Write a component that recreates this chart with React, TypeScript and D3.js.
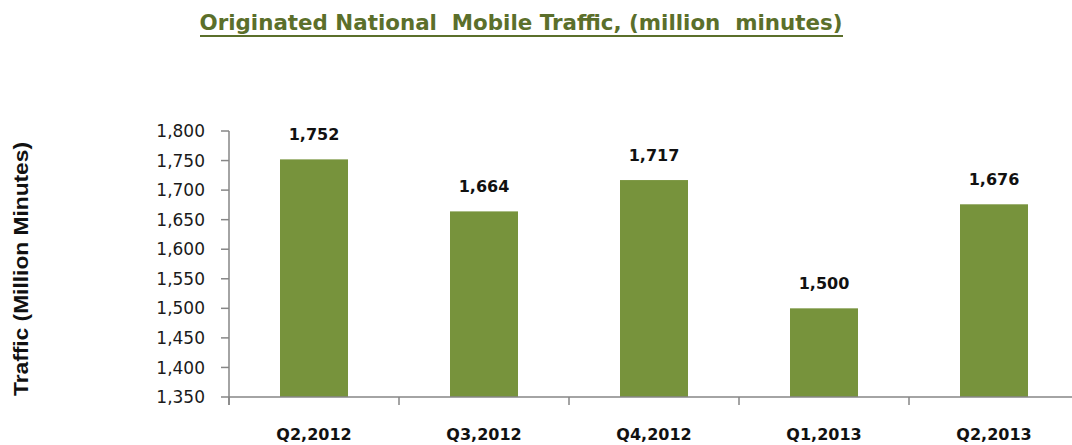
import React from "react";
import * as d3 from "d3";

const categories = ["Q2,2012", "Q3,2012", "Q4,2012", "Q1,2013", "Q2,2013"];
const values = [1752, 1664, 1717, 1500, 1676];
const yTicks = [1350, 1400, 1450, 1500, 1550, 1600, 1650, 1700, 1750, 1800];
const title = "Originated National\u00a0\u00a0Mobile Traffic, (million\u00a0\u00a0minutes)";
const yTitle = "Traffic (Million Minutes)";

const W = 1072;
const H = 445;
const left = 229;
const right = 1079;
const top = 131;
const bottom = 397;

export default function App() {
  const x = d3.scaleBand<string>().domain(categories).range([left, right]).paddingInner(0.6).paddingOuter(0.3);
  const y = d3.scaleLinear().domain([1350, 1800]).range([bottom, top]);
  const fmt = d3.format(",");
  const step = x.step();
  const numFont = "'DejaVu Sans', sans-serif";
  return (
    <svg width={W} height={H} style={{ position: "absolute", left: 0, top: 0, background: "#fff" }}>
      <text x={521} y={30} textAnchor="middle" fontFamily="'DejaVu Sans', sans-serif" fontWeight="bold" fontSize={21} fill="#5b6f2b" textLength={643} lengthAdjust="spacingAndGlyphs" style={{ whiteSpace: "pre" }}>
        {title}
      </text>
      <line x1={200} x2={843} y1={36} y2={36} stroke="#5b6f2b" strokeWidth={2} />
      <text transform={`translate(28,269) rotate(-90)`} textAnchor="middle" fontFamily="'Liberation Sans', Arial, sans-serif" fontWeight="bold" fontSize={20} fill="#111" textLength={254} lengthAdjust="spacingAndGlyphs">
        {yTitle}
      </text>
      {/* y axis */}
      <line x1={left} x2={left} y1={top} y2={bottom + 8} stroke="#868686" strokeWidth={1.5} />
      {yTicks.map((t) => (
        <g key={t}>
          <line x1={left - 8} x2={left} y1={y(t)} y2={y(t)} stroke="#868686" strokeWidth={1.5} />
          <text x={205} y={y(t)} dy="0.36em" textAnchor="end" fontFamily={numFont} fontSize={17} fill="#1a1a1a">
            {fmt(t)}
          </text>
        </g>
      ))}
      {/* bars */}
      {categories.map((c, i) => (
        <g key={c}>
          <rect x={x(c)} y={y(values[i])} width={x.bandwidth()} height={bottom - y(values[i])} fill="#77933c" />
          <text x={(x(c) as number) + x.bandwidth() / 2} y={y(values[i]) - 19} textAnchor="middle" fontFamily={numFont} fontWeight="bold" fontSize={16} fill="#111">
            {fmt(values[i])}
          </text>
          <text x={(x(c) as number) + x.bandwidth() / 2} y={440} textAnchor="middle" fontFamily={numFont} fontWeight="bold" fontSize={16} fill="#111">
            {c}
          </text>
        </g>
      ))}
      {/* x axis */}
      <line x1={left} x2={right} y1={bottom} y2={bottom} stroke="#868686" strokeWidth={1.5} />
      {categories.map((c, i) => (
        <line key={"t" + c} x1={left + step * i} x2={left + step * i} y1={bottom} y2={bottom + 8} stroke="#868686" strokeWidth={1.5} />
      ))}
    </svg>
  );
}
